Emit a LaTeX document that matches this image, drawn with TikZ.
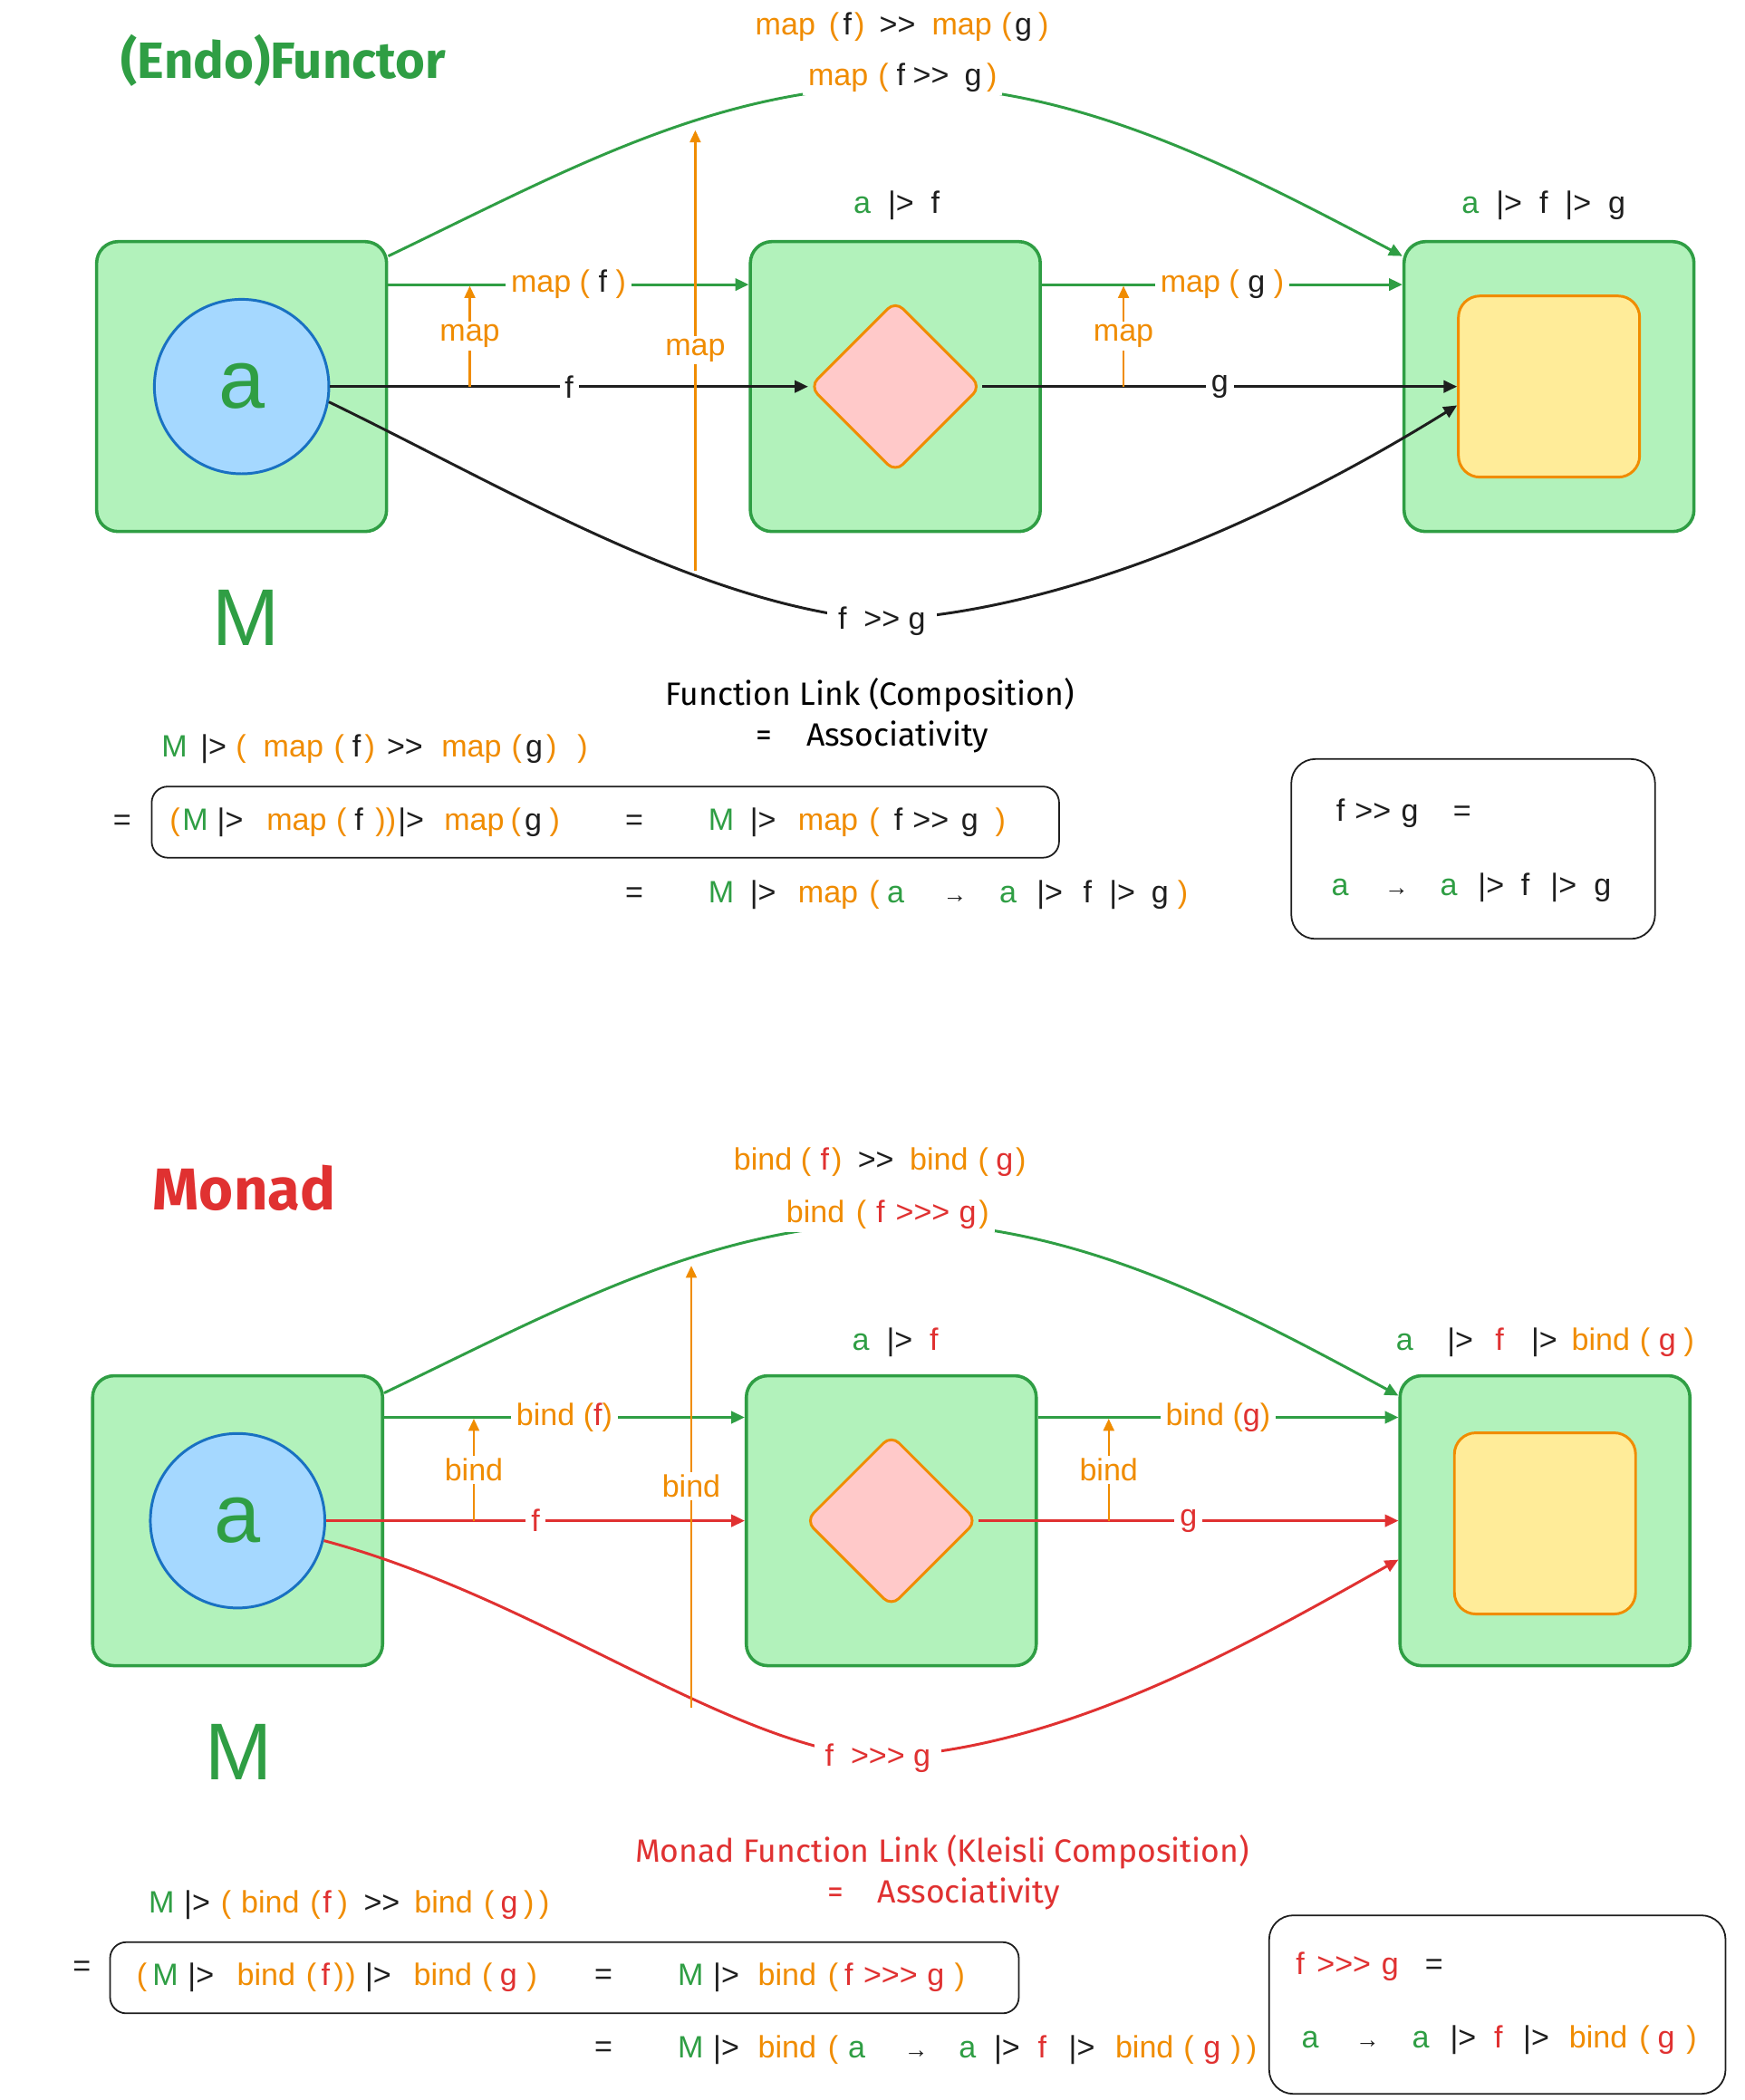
\documentclass[tikz,border=0pt]{standalone}
\usepackage{fontspec}
\setmainfont{Liberation Sans}
\newfontfamily\hand{Fira Sans}
\usetikzlibrary{arrows.meta,shapes.geometric}
\definecolor{cgreen}{HTML}{2F9E44}
\definecolor{cgreenf}{HTML}{B2F2BB}
\definecolor{cblue}{HTML}{1971C2}
\definecolor{cbluef}{HTML}{A5D8FF}
\definecolor{corange}{HTML}{F08C00}
\definecolor{cpink}{HTML}{FFC9C9}
\definecolor{cyellow}{HTML}{FFEC99}
\definecolor{cred}{HTML}{E03131}
\definecolor{cblack}{HTML}{1E1E1E}
\newcommand{\cG}[1]{\textcolor{cgreen}{#1}}
\newcommand{\cO}[1]{\textcolor{corange}{#1}}
\newcommand{\cR}[1]{\textcolor{cred}{#1}}
\newcommand{\hh}[1]{\hspace*{#1pt}}
\newcommand{\GG}{>\kern0pt>}
\newcommand{\GGG}{>\kern0pt>\kern0pt>}
\newcommand{\sarr}{\makebox[7.2pt]{\fontsize{9}{9}\selectfont →}}
\tikzset{
 fs/.style={font=\fontsize{11.5}{13.8}\selectfont, text=cblack},
 gbox/.style={draw=cgreen, fill=cgreenf, line width=1.2pt, rounded corners=8pt, minimum width=108pt, minimum height=108pt, inner sep=0pt},
 circ/.style={circle, draw=cblue, fill=cbluef, line width=1pt, minimum size=65pt, inner sep=0pt, text=cgreen, font=\fontsize{31}{31}\selectfont},
 diam/.style={diamond, draw=corange, fill=cpink, line width=1pt, minimum width=64pt, minimum height=64pt, inner sep=0pt, rounded corners=4pt},
 ybox/.style={draw=corange, fill=cyellow, line width=1pt, minimum size=67.5pt, rounded corners=8pt, inner sep=0pt},
 arrtip/.style={-{Triangle[length=5pt,width=4.5pt]}},
 garr/.style={draw=cgreen, line width=1pt, arrtip},
 karr/.style={draw=cblack, line width=1pt, arrtip},
 rarr/.style={draw=cred, line width=1pt, arrtip},
 oarr/.style={draw=corange, line width=0.8pt, -{Triangle[length=4.5pt,width=4pt]}},
 lbl/.style={fs, fill=white, inner xsep=2pt, inner ysep=1pt},
 txt/.style={fs, inner sep=0pt, anchor=west},
 bigM/.style={text=cgreen, font=\fontsize{30}{30}\selectfont},
 fbox/.style={draw=cblack, line width=0.6pt, rounded corners=6pt, inner sep=0pt},
 ttl/.style={font=\hand\bfseries\fontsize{19}{22}\selectfont},
 hnote/.style={font=\hand\fontsize{12}{14}\selectfont},
}
\begin{document}
\begin{tikzpicture}[x=0.5pt,y=-0.5pt]
\useasboundingbox[fill=white] (0,0) rectangle (1300,1564.6);

% ================= (Endo)Functor =================
\node[ttl, text=cgreen] (t1) at (211,45) {(Endo)Functor};
\node[gbox] (A) at (180,288) {};
\node[gbox] (B) at (667,288) {};
\node[gbox] (C) at (1154,288) {};
\node[circ] (a1) at (180,288) {a};
\node[diam] (d1) at (667,288) {};
\node[ybox] (y1) at (1154,288) {};
\node[bigM] (M1) at (183,460) {M};
\node[fs] (ab1) at (668,153) {\cG{a}\ \ |>\ \ f};
\node[fs] (ac1) at (1150,153) {\cG{a}\ \ |>\ \ f\ \ |>\ \ g};

\coordinate (gt1) at (668,64);
\draw[garr] ([yshift=-6pt]A.north east) .. controls (420,128) and (530,66) .. (gt1) .. controls (800,62) and (920,125) .. ([yshift=-6pt]C.north west);
\node[lbl] (L1) at (672.5,58) {\cO{map}\hh{3.7}\cO{(}\hh{3}f\hh{2.9}\GG\hh{5.8}g\hh{1.9}\cO{)}};
\node[fs, inner sep=0pt] (L0) at (672,20) {\cO{map}\hh{5}\cO{(}\hh{1.5}f\hh{1}\cO{)}\hh{5.5}\GG\hh{6.1}\cO{map}\hh{3.6}\cO{(}\hh{1.1}g\hh{2.4}\cO{)}};

\draw[garr] ([yshift=38pt]A.east) -- node[lbl]{\cO{map (} f \cO{)}} ([yshift=38pt]B.west);
\draw[garr] ([yshift=38pt]B.east) -- node[lbl]{\cO{map (} g \cO{)}} ([yshift=38pt]C.west);
\draw[karr] (a1.east) -- node[lbl]{f} (d1.west);
\draw[karr] (d1.east) -- node[lbl]{g} (y1.west);
\coordinate (kb1) at (655,462);
\draw[karr] (a1.-10) .. controls (380,365) and (520,450) .. (kb1) .. controls (800,455) and (960,380) .. ([yshift=-7pt]y1.west);
\node[lbl, inner xsep=4pt] (L2) at (657,463) {f\ \ \GG\ g};

\coordinate (ob1) at (350,288); \coordinate (ot1) at (350,213);
\draw[oarr] (ob1) -- node[lbl, text=corange]{map} (ot1);
\coordinate (ob2) at (837,288); \coordinate (ot2) at (837,213);
\draw[oarr] (ob2) -- node[lbl, text=corange]{map} (ot2);
\coordinate (ob3) at (518,425); \coordinate (ot3) at (518,97);
\draw[oarr] (ob3) -- node[lbl, text=corange]{map} (ot3);

\node[hnote] (n1) at (648,518) {Function Link (Composition)};
\node[hnote] (n2) at (650,549) {=\ \ \ \ Associativity};
\node[txt] (f1) at (120,558) {\cG{M}\hh{4.9}|>\hh{3.5}\cO{(}\hh{6.4}\cO{map}\hh{3.9}\cO{(}\hh{3}f\hh{1.5}\cO{)}\hh{4.4}\GG\hh{6.9}\cO{map}\hh{3.7}\cO{(}\hh{1.4}g\hh{1.4}\cO{)}\hh{7.7}\cO{)}};
\node[fs] (e1) at (91,613) {=};
\node[fbox, minimum width=338pt, minimum height=26.5pt] (fb1) at (451,612.5) {};
\node[txt] (f2) at (126,613) {\cO{(}\hh{0.9}\cG{M}\hh{3.4}|>\hh{8.7}\cO{map}\hh{3.6}\cO{(}\hh{3}f\hh{4.5}\cO{)}\hh{0.1}\cO{)}\hh{0.7}|>\hh{7.5}\cO{map}\hh{2.4}\cO{(}\hh{1.4}g\hh{2.9}\cO{)}};
\node[fs] (e2) at (472.5,613) {=};
\node[txt] (f3) at (527.4,613) {\cG{M}\hh{5.9}|>\hh{8.2}\cO{map}\hh{4.1}\cO{(}\hh{5.5}f\hh{3.7}\GG\hh{4.6}g\hh{6.4}\cO{)}};
\node[fs] (e3) at (472.5,667) {=};
\node[txt] (f4) at (527.4,667) {\cG{M}\hh{5.9}|>\hh{8.2}\cO{map}\hh{4.1}\cO{(}\hh{2.9}\cG{a}\hh{15.2}\sarr\hh{13}\cG{a}\hh{7.5}|>\hh{7.6}f\hh{6.5}|>\hh{6}g\hh{3.4}\cO{)}};
\node[fbox, rounded corners=9pt, minimum width=135.5pt, minimum height=67pt] (rb1) at (1097.5,632.5) {};
\node[txt] (r1) at (995.1,606) {f\hh{3.75}\GG\hh{3.8}g\hh{13}=};
\node[txt] (r2) at (991.6,661) {\cG{a}\hh{14.2}\sarr\hh{12.7}\cG{a}\hh{7.7}|>\hh{6.3}f\hh{7.8}|>\hh{6.5}g};

% ================= Monad =================
\node[ttl, text=cred, font=\hand\bfseries\fontsize{22}{24}\selectfont] (t2) at (182,885) {Monad};
\node[gbox] (A2) at (177,1133) {};
\node[gbox] (B2) at (664,1133) {};
\node[gbox] (C2) at (1151,1133) {};
\node[circ] (a2) at (177,1133) {a};
\node[diam] (d2) at (664,1133) {};
\node[ybox] (y2) at (1151,1135) {};
\node[bigM] (M2) at (178,1305) {M};
\node[fs] (ab2) at (667,1000) {\cG{a}\ \ |>\ \ \cR{f}};
\node[txt] (ac2) at (1039.6,1000) {\cG{a}\hh{12.7}|>\hh{8.2}\cR{f}\hh{10.2}|>\hh{5.3}\cO{bind}\hh{3.7}\cO{(}\hh{3.2}\cR{g}\hh{3}\cO{)}};

\coordinate (gt2) at (662,911);
\draw[garr] ([yshift=-7pt]A2.north east) .. controls (417,975) and (527,914) .. (gt2) .. controls (797,909) and (917,972) .. ([yshift=-8pt]C2.north west);
\node[lbl] (L3) at (661.3,905) {\cO{bind}\hh{4.3}\cO{(}\hh{3.6}\cR{f}\hh{4.1}\cR{\GGG}\hh{3.5}\cR{g}\hh{0.9}\cO{)}};
\node[txt] (L4) at (546.3,866) {\cO{bind}\hh{3.2}\cO{(}\hh{3.5}\cR{f}\hh{1}\cO{)}\hh{5.9}\GG\hh{5.9}\cO{bind}\hh{3.7}\cO{(}\hh{2.9}\cR{g}\hh{0.9}\cO{)}};

\draw[garr] ([yshift=38.5pt]A2.east) -- node[lbl]{\cO{bind (}\cR{f}\cO{)}} ([yshift=38.5pt]B2.west);
\draw[garr] ([yshift=38.5pt]B2.east) -- node[lbl]{\cO{bind (}\cR{g}\cO{)}} ([yshift=38.5pt]C2.west);
\draw[rarr] (a2.east) -- node[lbl, text=cred]{f} (B2.west);
\draw[rarr] (d2.east) -- node[lbl, text=cred]{g} (C2.west);
\coordinate (rb2) at (652,1309);
\draw[rarr] (a2.-13) .. controls (400,1190) and (540,1300) .. (rb2) .. controls (790,1305) and (930,1225) .. ([yshift=-14.5pt]C2.west);
\node[lbl, text=cred, inner xsep=4pt] (L5) at (654,1310) {f\ \ \GGG\ g};

\coordinate (ob4) at (353,1133); \coordinate (ot4) at (353,1057);
\draw[oarr] (ob4) -- node[lbl, text=corange]{bind} (ot4);
\coordinate (ob5) at (826,1133); \coordinate (ot5) at (826,1057);
\draw[oarr] (ob5) -- node[lbl, text=corange]{bind} (ot5);
\coordinate (ob6) at (515,1272); \coordinate (ot6) at (515,943);
\draw[oarr] (ob6) -- node[lbl, text=corange]{bind} (ot6);

\node[hnote, text=cred] (n3) at (702,1380) {Monad Function Link (Kleisli Composition)};
\node[hnote, text=cred] (n4) at (703,1411) {=\ \ \ \ Associativity};
\node[txt] (g1) at (110.4,1419) {\cG{M}\hh{3.6}|>\hh{4}\cO{(}\hh{3.7}\cO{bind}\hh{4}\cO{(}\hh{0.9}\cR{f}\hh{2.3}\cO{)}\hh{5.9}\GG\hh{5.4}\cO{bind}\hh{4.2}\cO{(}\hh{2.4}\cR{g}\hh{2.2}\cO{)}\hh{1.9}\cO{)}};
\node[fs] (e4) at (61,1467) {=};
\node[fbox, minimum width=338.5pt, minimum height=26.5pt] (fb2) at (420.5,1473.5) {};
\node[txt] (g2) at (101.4,1473) {\cO{(}\hh{2.1}\cG{M}\hh{3.6}|>\hh{8.6}\cO{bind}\hh{4}\cO{(}\hh{1.8}\cR{f}\hh{1.5}\cO{)}\hh{0.5}\cO{)}\hh{3.5}|>\hh{8.4}\cO{bind}\hh{3.7}\cO{(}\hh{2.8}\cR{g}\hh{3.7}\cO{)}};
\node[fs] (e5) at (449.5,1473) {=};
\node[txt] (g3) at (504.6,1473) {\cG{M}\hh{3.6}|>\hh{7}\cO{bind}\hh{4.3}\cO{(}\hh{2.3}\cR{f}\hh{3.9}\cR{\GGG}\hh{3.6}\cR{g}\hh{3.8}\cO{)}};
\node[fs] (e6) at (449.5,1527) {=};
\node[txt] (g4) at (504.6,1527) {\cG{M}\hh{3.6}|>\hh{7}\cO{bind}\hh{4.3}\cO{(}\hh{3.7}\cG{a}\hh{15.3}\sarr\hh{12.3}\cG{a}\hh{6.7}|>\hh{6.7}\cR{f}\hh{8.3}|>\hh{7.6}\cO{bind}\hh{3.7}\cO{(}\hh{3.6}\cR{g}\hh{3.8}\cO{)}\hh{2}\cO{)}};
\node[fbox, rounded corners=9pt, minimum width=170pt, minimum height=66.5pt] (rb2b) at (1115.5,1493.5) {};
\node[txt] (r3) at (965,1465) {\cR{f}\hh{4.6}\cR{\GGG}\hh{4}\cR{g}\hh{9.8}=};
\node[txt] (r4) at (969.2,1520) {\cG{a}\hh{14.6}\sarr\hh{13}\cG{a}\hh{7.8}|>\hh{6.7}\cR{f}\hh{7.6}|>\hh{7.4}\cO{bind}\hh{4.4}\cO{(}\hh{3}\cR{g}\hh{4.3}\cO{)}};
\end{tikzpicture}
\end{document}
